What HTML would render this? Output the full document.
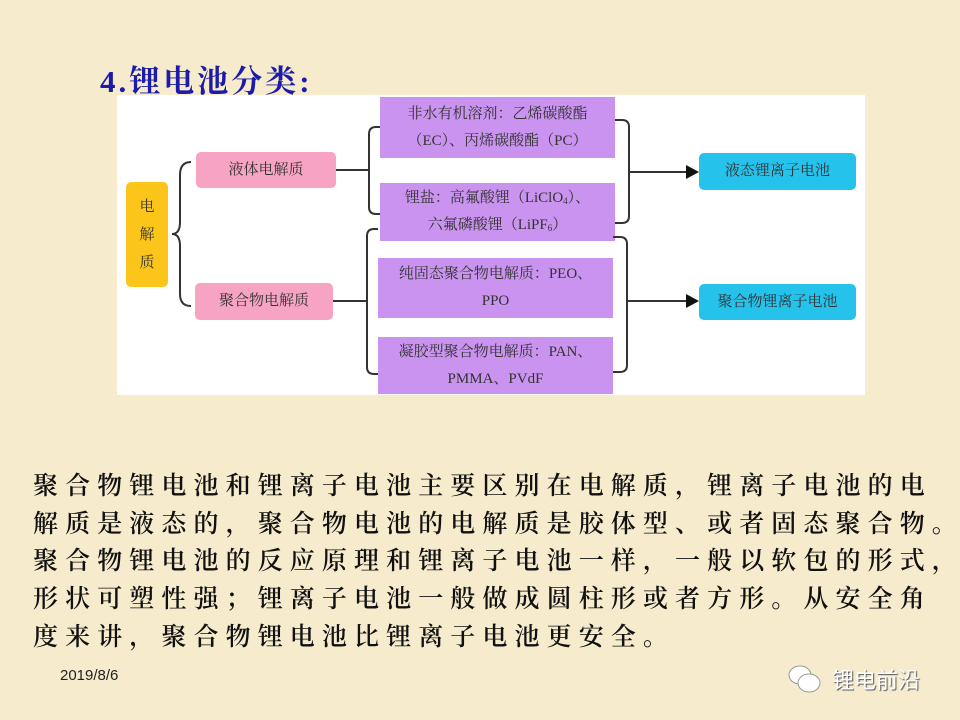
<!DOCTYPE html>
<html><head><meta charset="utf-8"><style>
body{margin:0;width:960px;height:720px;background:#f6ebcd;position:relative;overflow:hidden;font-family:"Liberation Serif","Noto Serif CJK SC",serif}
.a{position:absolute}
.t{position:absolute;left:100px;top:56px;font-size:31px;color:#1c1ca8;font-weight:bold;letter-spacing:3px;font-family:"Liberation Serif","Noto Serif CJK SC",serif}
.panel{position:absolute;left:117px;top:95px;width:748px;height:300px;background:#fff}
.box{position:absolute;display:flex;align-items:center;justify-content:center;text-align:center;font-size:15px;color:#333;line-height:27px}
.p{background:#f7a3c3;border-radius:5px}
.v{background:#c993ef}
.c{background:#25c2ec;border-radius:5px}
.s{font-size:9px;vertical-align:-2px;line-height:0}
.body{position:absolute;left:33px;font-size:25px;letter-spacing:7.1px;color:#111;white-space:nowrap;font-weight:600}
</style></head><body>
<div class="t">4.锂电池分类:</div>
<div class="panel"></div>
<div class="box a" style="left:126px;top:182px;width:42px;height:105px;background:#fbc619;border-radius:5px;line-height:28px"><div>电<br>解<br>质</div></div>
<div class="box p" style="left:196px;top:152px;width:140px;height:36px"><div>液体电解质</div></div>
<div class="box p" style="left:195px;top:283px;width:138px;height:37px"><div>聚合物电解质</div></div>
<div class="box v" style="left:380px;top:97px;width:235px;height:61px"><div>非水有机溶剂：乙烯碳酸酯<br>（EC）、丙烯碳酸酯（PC）</div></div>
<div class="box v" style="left:380px;top:183px;width:235px;height:58px"><div>锂盐：高氟酸锂（LiClO<span class="s">4</span>）、<br>六氟磷酸锂（LiPF<span class="s">6</span>）</div></div>
<div class="box v" style="left:378px;top:258px;width:235px;height:60px"><div>纯固态聚合物电解质：PEO、<br>PPO</div></div>
<div class="box v" style="left:378px;top:337px;width:235px;height:57px"><div>凝胶型聚合物电解质：PAN、<br>PMMA、PVdF</div></div>
<div class="box c" style="left:699px;top:153px;width:157px;height:37px"><div>液态锂离子电池</div></div>
<div class="box c" style="left:699px;top:284px;width:157px;height:36px"><div>聚合物锂离子电池</div></div>
<svg class="a" style="left:0;top:0" width="960" height="720" fill="none" stroke="#333" stroke-width="2">
<path d="M191 162 Q180 162 180 175 L180 222 Q180 234 172 234 Q180 234 180 246 L180 294 Q180 306 191 306"/>
<path d="M336 170 H369 M380 127 H376 Q369 127 369 134 V207 Q369 214 376 214 H380"/>
<path d="M333 301 H367 M378 229 H374 Q367 229 367 236 V367 Q367 374 374 374 H378"/>
<path d="M615 120 H622 Q629 120 629 127 V216 Q629 223 622 223 H615 M629 172 H688"/>
<path d="M613 237 H620 Q627 237 627 244 V365 Q627 372 620 372 H613 M627 301 H688"/>
<path d="M686 165 L699 172 L686 179 Z M686 294 L699 301 L686 308 Z" fill="#111" stroke="none"/>
</svg>
<div class="body" style="top:466px">聚合物锂电池和锂离子电池主要区别在电解质，锂离子电池的电</div>
<div class="body" style="top:504px">解质是液态的，聚合物电池的电解质是胶体型、或者固态聚合物。</div>
<div class="body" style="top:541px">聚合物锂电池的反应原理和锂离子电池一样，一般以软包的形式，</div>
<div class="body" style="top:579px">形状可塑性强；锂离子电池一般做成圆柱形或者方形。从安全角</div>
<div class="body" style="top:617px">度来讲，聚合物锂电池比锂离子电池更安全。</div>
<div class="a" style="left:60px;top:667px;font-size:15px;font-family:'Liberation Sans',sans-serif;color:#222">2019/8/6</div>
<svg class="a" style="left:785px;top:662px" width="40" height="34"><ellipse cx="15" cy="13" rx="11" ry="9" fill="#fff" stroke="#999"/><ellipse cx="24" cy="21" rx="11" ry="9" fill="#fff" stroke="#999"/></svg>
<div class="a" style="left:832px;top:663px;font-size:22px;color:#fff;font-family:'Liberation Sans','Noto Sans CJK SC',sans-serif;text-shadow:1px 1px 1px #555">锂电前沿</div>
</body></html>
